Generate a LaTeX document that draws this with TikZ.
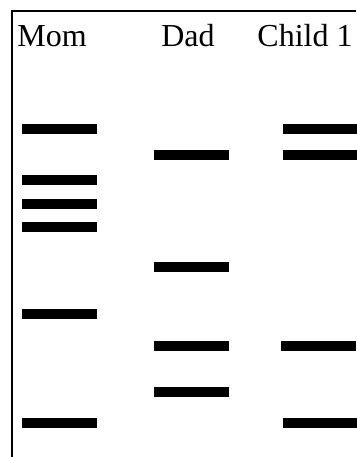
\documentclass[tikz,border=0pt]{standalone}
\usepackage{fontspec}
\setmainfont{Liberation Serif}
\usetikzlibrary{positioning}

\begin{document}
\begin{tikzpicture}[
    x=1pt,y=-1pt,
    lane/.style={anchor=base,inner sep=0pt,font=\fontsize{32}{32}\selectfont},
    band/.style={fill=black,inner sep=0pt,minimum width=75pt,minimum height=10pt}
]
\useasboundingbox (0,0) rectangle (356,457);
\draw[line width=1.6pt] (356,11) -| (12,457);
% lane labels
\node[lane] (mom) at (52,47) {Mom};
\node[lane] (dad) at (188,47) {Dad};
\node[lane] (child) at (305,47) {Child 1};
% mom bands
\node[band] (mom1) at (59.5,129) {};
\node[band] (mom2) at (59.5,179.5) {};
\node[band] (mom3) at (59.5,203.5) {};
\node[band] (mom4) at (59.5,227) {};
\node[band] (mom5) at (59.5,314) {};
\node[band] (mom6) at (59.5,422.5) {};
% dad bands
\node[band] (dad1) at (191,155.5) {};
\node[band] (dad2) at (191,267) {};
\node[band] (dad3) at (191,346) {};
\node[band] (dad4) at (191,391.5) {};
% child bands
\node[band] (child1) at (320,129) {};
\node[band] (child2) at (320,155.5) {};
\node[band] (child3) at (318,346) {};
\node[band] (child4) at (320,422.5) {};
\end{tikzpicture}
\end{document}
